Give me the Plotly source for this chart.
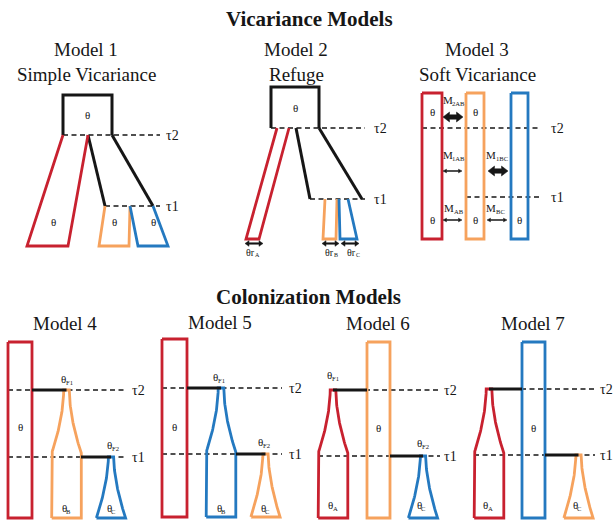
import numpy as np
import plotly.graph_objects as go

W, H = 613, 520
FONT = "Liberation Serif"
INK = "#161616"
RED, ORANGE, BLUE = "#c8212f", "#f6a25d", "#2479c0"

# ---------------- text ----------------
SECTION_TITLES = ["Vicariance Models", "Colonization Models"]
SECTION_X = [309, 308]
SECTION_Y = [19, 297]

MODEL_TITLES = ["Model 1", "Model 2", "Model 3", "Model 4", "Model 5", "Model 6", "Model 7"]
MODEL_SUBTITLES = ["Simple Vicariance", "Refuge", "Soft Vicariance"]
MODEL_TITLE_X = [86, 296, 477, 65, 220, 378, 533]
MODEL_TITLE_Y = [49, 49, 49, 323, 322, 323, 323]
SUBTITLE_Y = 74

# ---------------- event times (diagram y) ----------------
TAU2 = [135, 128, 128, 390, 388, 390, 389]
TAU1 = [206, 199, 197, 457, 454, 456, 455]
PRESENT = [246, 239, 239, 518, 517, 518, 518]
TAU2_X0 = [63, 271, 422, 8, 162, 331, 487]
TAU1_X0 = [105, 310, 466, 8, 162, 318, 474]
TAU_X1 = [160, 365, 540, 127, 282, 440, 595]
TAU_LABEL_X = [166, 374, 551, 132, 289, 444, 600]
TAU_LABELS = ["τ2", "τ1"]

# ---------------- vicariance trees ----------------
# ancestral boxes (x0, x1, top) for models 1 and 2
ANC_BOX = [(63, 112, 95), (271, 319, 87)]
# daughter lineages: top-left x, top-right x, bottom-left x, bottom-right x
M1_LINEAGES = {"A": (63, 88, 27, 68), "B": (105, 130, 99, 129), "C": (130, 153, 138, 168)}
M2_LINEAGES = {"A": (277, 289, 246, 259), "B": (325, 337, 323, 336), "C": (339, 348, 340, 357)}
# internal branches: (x at tau2, x at tau1)
M1_BRANCHES = [(88, 105), (112, 153)]
M2_BRANCHES = [(296, 310), (319, 362)]
M2_REFUGE_ARROWS = [(245, 263), (322, 339), (341, 359)]
M2_REFUGE_LABELS = [("θr", "A"), ("θr", "B"), ("θr", "C")]
M2_REFUGE_LABEL_X = [253, 332, 354]

# model 3 populations (x0, x1, top)
M3_POPS = {"A": (422, 442, 93), "B": (466, 484, 93), "C": (511, 528, 93)}
M3_MIGRATION = [("M", "2AB"), ("M", "1AB"), ("M", "1BC"), ("M", "AB"), ("M", "BC")]
M3_MIG_LABEL_X = [454, 454, 497, 454, 496]
M3_MIG_LABEL_Y = [100, 155, 155, 208, 208]
M3_ARROW_X0 = [443, 443, 488, 443, 487]
M3_ARROW_X1 = [463, 462, 508, 462, 507]
M3_ARROW_Y = [117, 171, 171, 220, 220]
M3_ARROW_HEAVY = [True, False, True, False, False]

# ---------------- colonization models ----------------
COL_SOURCE = [(8, 32, 342), (162, 187, 339), (367, 390, 342), (522, 545, 342)]
COL_COLORS = [(RED, ORANGE, BLUE), (RED, BLUE, ORANGE), (ORANGE, RED, BLUE), (BLUE, RED, ORANGE)]
FLASK_CX = [66.5, 221, 333, 489]
FLASK_SHOULDER_Y = [453, 452, 453, 453]
FLASK_HW = (2.8, 14.8)
CONE_CX = [111, 265.5, 423, 578.5]
CONE_HW = (2.6, 14.6)
TAU1_LINK_X0 = [81, 236, 390, 545]
COL_LABELS = [
    [("θ", "", 20, 427), ("θ", "F1", 67, 379), ("θ", "F2", 113, 445), ("θ", "B", 66, 508), ("θ", "C", 111, 508)],
    [("θ", "", 174, 427), ("θ", "F1", 219, 377), ("θ", "F2", 264, 442), ("θ", "B", 221, 508), ("θ", "C", 265, 508)],
    [("θ", "", 378, 428), ("θ", "F1", 333, 375), ("θ", "F2", 423, 443), ("θ", "A", 333, 505), ("θ", "C", 421, 505)],
    [("θ", "", 533, 428), ("θ", "A", 488, 505), ("θ", "C", 577, 505)],
]

# approximate glyph advance widths (em) used to centre label + subscript pairs
GLYPH_EM = {"θ": 0.52, "r": 0.34, "M": 0.89, "A": 0.72, "B": 0.67, "C": 0.67,
            "F": 0.56, "1": 0.5, "2": 0.5}

fig = go.Figure()


def path(xs, ys, color, width=2.8, dash=None):
    fig.add_trace(go.Scatter(
        x=list(xs), y=list(ys), mode="lines",
        line=dict(color=color, width=width, dash=dash),
        hoverinfo="skip", showlegend=False))


def poly(xs, ys, color):
    fig.add_trace(go.Scatter(
        x=list(xs) + [xs[0]], y=list(ys) + [ys[0]], mode="lines",
        fill="toself", fillcolor=color, line=dict(color=color, width=0.5),
        hoverinfo="skip", showlegend=False))


def text(s, x, y, size, bold=False, xanchor="center"):
    fig.add_annotation(
        x=x, y=y, text=f"<b>{s}</b>" if bold else s, showarrow=False,
        xanchor=xanchor, yanchor="middle", borderpad=0, borderwidth=0,
        font=dict(family=FONT, size=size, color=INK))


def sub_text(main, sub, x, y, size):
    """A symbol with a small subscript, centred on x as a pair."""
    if not sub:
        text(main, x, y, size)
        return
    sub_size = size * 0.6
    wm = sum(GLYPH_EM.get(c, 0.55) for c in main) * size
    ws = sum(GLYPH_EM.get(c, 0.55) for c in sub) * sub_size
    split = x - (wm + ws) / 2 + wm
    text(main, split, y, size, xanchor="right")
    text(sub, split - 0.3, y + size * 0.3, sub_size, xanchor="left")


def double_arrow(x0, x1, y, shaft, head_len, head_half):
    xs = [x0, x0 + head_len, x0 + head_len, x1 - head_len, x1 - head_len, x1,
          x1 - head_len, x1 - head_len, x0 + head_len, x0 + head_len]
    ys = [y, y - head_half, y - shaft / 2, y - shaft / 2, y - head_half, y,
          y + head_half, y + shaft / 2, y + shaft / 2, y + head_half]
    poly(xs, ys, INK)


def dashed(x0, x1, y):
    path([x0, x1], [y, y], INK, width=1.4, dash="5px,3.5px")


# dashed event lines and labels
for i in range(7):
    dashed(TAU2_X0[i], TAU_X1[i], TAU2[i])
    dashed(TAU1_X0[i], TAU_X1[i], TAU1[i])
    text(TAU_LABELS[0], TAU_LABEL_X[i], TAU2[i], 14, xanchor="left")
    text(TAU_LABELS[1], TAU_LABEL_X[i], TAU1[i], 14, xanchor="left")

# models 1 and 2
for k, (lineages, branches) in enumerate([(M1_LINEAGES, M1_BRANCHES), (M2_LINEAGES, M2_BRANCHES)]):
    x0, x1, top = ANC_BOX[k]
    t2, t1, now = TAU2[k], TAU1[k], PRESENT[k]
    path([x0, x0, x1, x1], [t2, top, top, t2], INK, width=3)
    for bx2, bx1 in branches:
        path([bx2, bx1], [t2, t1], INK, width=3)
    for pop, color in zip("ABC", (RED, ORANGE, BLUE)):
        tl, tr, bl, br = lineages[pop]
        ytop = t2 if pop == "A" else t1
        path([tl, bl, br, tr], [ytop, now, now, ytop], color)
    text("θ", (x0 + x1) / 2, (top + t2) / 2, 11)

# model 1 population sizes
for pop in "ABC":
    tl, tr, bl, br = M1_LINEAGES[pop]
    text("θ", (bl + br) / 2 + (6 if pop == "A" else 0), 222, 11)

# model 2 refuge widths
for (a0, a1), (lab, sub), lx in zip(M2_REFUGE_ARROWS, M2_REFUGE_LABELS, M2_REFUGE_LABEL_X):
    double_arrow(a0, a1, 243.5, 1.6, 4, 2.8)
    sub_text(lab, sub, lx, 252, 10)

# model 3
for pop, color in zip("ABC", (RED, ORANGE, BLUE)):
    x0, x1, top = M3_POPS[pop]
    path([x0, x0, x1, x1, x0], [top, PRESENT[2], PRESENT[2], top, top], color)
    cx = (x0 + x1) / 2
    text("θ", cx, 220, 11)
    if pop != "C":
        text("θ", cx, 112, 11)
for (lab, sub), lx, ly in zip(M3_MIGRATION, M3_MIG_LABEL_X, M3_MIG_LABEL_Y):
    sub_text(lab, sub, lx, ly, 11)
for a0, a1, ay, heavy in zip(M3_ARROW_X0, M3_ARROW_X1, M3_ARROW_Y, M3_ARROW_HEAVY):
    if heavy:
        double_arrow(a0, a1, ay, 4.5, 6.5, 5)
    else:
        double_arrow(a0, a1, ay, 0.9, 3.5, 1.8)

# colonization models
s = np.linspace(0, 1, 40)
for j in range(4):
    m = j + 3
    t2, t1, now = TAU2[m], TAU1[m], PRESENT[m]
    src_color, flask_color, cone_color = COL_COLORS[j]
    sx0, sx1, stop = COL_SOURCE[j]
    path([sx0, sx0, sx1, sx1, sx0], [stop, now, now, stop, stop], src_color)

    # founder population 1: bottleneck expanding to a stable size
    cx, ys = FLASK_CX[j], FLASK_SHOULDER_Y[j]
    hw = FLASK_HW[0] + (FLASK_HW[1] - FLASK_HW[0]) * s ** 1.8
    yy = t2 + (ys - t2) * s
    left_x = np.concatenate([[cx - FLASK_HW[1]], (cx - hw)[::-1]])
    left_y = np.concatenate([[now], yy[::-1]])
    xs = np.concatenate([left_x, (cx + hw), [cx + FLASK_HW[1]], [cx - FLASK_HW[1]]])
    yv = np.concatenate([left_y, yy, [now], [now]])
    path(xs, yv, flask_color)

    # founder population 2: exponential growth
    cc = CONE_CX[j]
    hw2 = CONE_HW[0] + (CONE_HW[1] - CONE_HW[0]) * s ** 1.7
    y2 = t1 + (now - t1) * s
    xs2 = np.concatenate([(cc - hw2)[::-1], cc + hw2, [cc - CONE_HW[1]]])
    yv2 = np.concatenate([y2[::-1], y2, [now]])
    path(xs2, yv2, cone_color)

    # colonization events
    if sx1 < cx:
        path([sx1, cx], [t2, t2], INK, width=3)
    else:
        path([cx, sx0], [t2, t2], INK, width=3)
    path([TAU1_LINK_X0[j], cc], [t1, t1], INK, width=3)

    for lab, sub, lx, ly in COL_LABELS[j]:
        sub_text(lab, sub, lx, ly, 11)

# titles
for t, x, y in zip(SECTION_TITLES, SECTION_X, SECTION_Y):
    text(t, x, y, 21, bold=True)
for i, t in enumerate(MODEL_TITLES):
    text(t, MODEL_TITLE_X[i], MODEL_TITLE_Y[i], 19)
for i, t in enumerate(MODEL_SUBTITLES):
    text(t, MODEL_TITLE_X[i], SUBTITLE_Y, 19)

fig.update_layout(
    width=W, height=H, margin=dict(l=0, r=0, t=0, b=0),
    paper_bgcolor="white", plot_bgcolor="white",
    xaxis=dict(range=[0, W], visible=False, fixedrange=True),
    yaxis=dict(range=[H, 0], visible=False, fixedrange=True),
    hovermode=False, showlegend=False,
)

fig.write_html("out.html")
